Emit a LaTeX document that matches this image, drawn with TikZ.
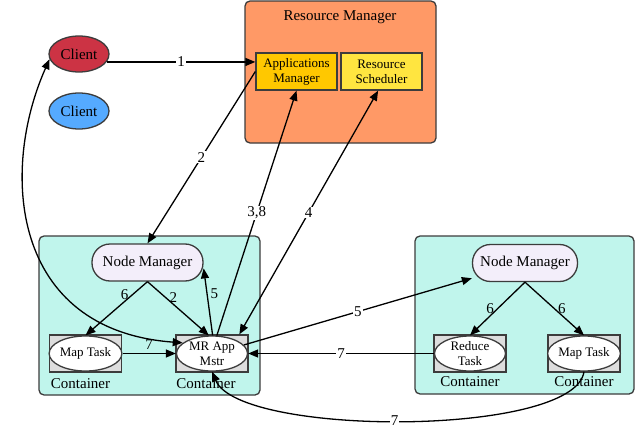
\documentclass[tikz,border=0pt]{standalone}
\usepackage{fontspec}
\setmainfont{Liberation Serif}
\usetikzlibrary{arrows.meta,shapes.geometric}

\definecolor{rmorange}{RGB}{255,153,102}
\definecolor{amgold}{RGB}{255,200,0}
\definecolor{rsyellow}{RGB}{255,229,64}
\definecolor{clientred}{RGB}{204,51,68}
\definecolor{clientblue}{RGB}{85,170,255}
\definecolor{nodeteal}{RGB}{192,245,236}
\definecolor{nmlilac}{RGB}{243,238,250}
\definecolor{contgray}{RGB}{221,221,221}
\definecolor{boxedge}{RGB}{60,60,60}

\begin{document}
\begin{tikzpicture}[x=1pt,y=-1pt,line width=1.3pt,
	>={Triangle[length=10pt,width=8pt]}]
	\tikzset{
		bigtxt/.style  = {font=\fontsize{15}{17}\selectfont},
		smalltxt/.style = {font=\fontsize{13}{15}\selectfont},
		rmbox/.style   = {draw=boxedge, fill=rmorange, rounded corners=5pt},
		nodebox/.style = {draw=boxedge, fill=nodeteal, rounded corners=5pt},
		ambox/.style   = {draw=boxedge, smalltxt, align=center, minimum width=81pt, minimum height=37pt, inner sep=0pt},
		client/.style  = {ellipse, draw=boxedge, bigtxt, minimum width=60pt, minimum height=36pt, inner sep=0pt},
		nm/.style      = {draw=boxedge, fill=nmlilac, bigtxt, rounded corners=18pt, minimum height=37pt, inner sep=0pt},
		cont/.style    = {draw=boxedge, fill=contgray, minimum width=72pt, minimum height=37pt, inner sep=0pt},
		task/.style    = {ellipse, draw=boxedge, fill=white, smalltxt, align=center, minimum width=71pt, minimum height=35pt, inner sep=0pt},
		cntlbl/.style  = {bigtxt, inner sep=5pt},
		lbl/.style     = {bigtxt, fill=white, inner sep=1pt},
		sidelbl/.style = {bigtxt, inner sep=3pt}
	}
	\useasboundingbox (0,0) rectangle (635,431);

	% resource manager
	\draw[rmbox] (245,1) rectangle (436,143);
	\node[bigtxt] (rmtitle) at (340,17) {Resource Manager};
	\node[ambox, fill=amgold] (appmgr) at (296.5,71.5) {Applications\\Manager};
	\node[ambox, fill=rsyellow] (sched) at (381.5,71.5) {Resource\\Scheduler};

	% clients
	\node[client, fill=clientred] (client) at (79,54) {Client};
	\node[client, fill=clientblue] (client2) at (79,111) {Client};

	% nodes
	\draw[nodebox] (39,236) rectangle (260,395);
	\draw[nodebox] (415,236) rectangle (634,394);
	\node[nm, minimum width=111pt] (nml) at (147.5,262.5) {Node Manager};
	\node[nm, minimum width=105pt] (nmr) at (525,263) {Node Manager};

	\node[cont] (cmapl) at (85.5,353.5) {};
	\node[task] (mapl) at (85.5,353.5) {Map Task};
	\node[cntlbl, anchor=north, xshift=-5pt] (lmapl) at (cmapl.south) {Container};
	\node[cont] (cmrapp) at (212,353.5) {};
	\node[task] (mrapp) at (212,353.5) {MR App\\Mstr};
	\node[cntlbl, anchor=north, xshift=-6pt] (lmrapp) at (cmrapp.south) {Container};
	\node[cont] (creduce) at (470,353.5) {};
	\node[task] (reduce) at (470,353.5) {Reduce\\Task};
	\node[cntlbl, anchor=north, yshift=2pt] (lreduce) at (creduce.south) {Container};
	\node[cont] (cmapr) at (584,353.5) {};
	\node[task] (mapr) at (584,353.5) {Map Task};
	\node[cntlbl, anchor=north, yshift=2pt] (lmapr) at (cmapr.south) {Container};

	% connectors
	\draw[->] (client.-16) -- node[lbl] {1} (client.-16 -| appmgr.west);
	\draw[->] (appmgr.west) -- node[lbl] {2} (nml.north);
	\draw[->] (mrapp.75) -- node[lbl] {3,8} (appmgr.south);
	\draw[<->] (sched.-100) -- node[lbl] {4} (cmrapp.35);
	\draw[->] (mrapp.88) -- node[sidelbl, right, pos=.63] {5} (nml.-6);
	\draw[->] (nml.south) -- node[sidelbl, left, pos=.25] {6} (mapl.north);
	\draw[->] (nml.south) -- node[sidelbl, right, pos=.3] {2} (mrapp.100);
	\draw[->] (mapl.east) -- node[sidelbl, above] {7} (mrapp.west);
	\draw[<->] (mrapp.160) .. controls (10,330) and (0,170) .. (client.190);
	\draw[->] (mrapp.15) -- node[lbl] {5} (nmr.196);
	\draw[->] (reduce.west) -- node[lbl] {7} (mrapp.east);
	\draw[->] (nmr.south) -- node[sidelbl, left] {6} (reduce.north);
	\draw[->] (nmr.south) -- node[sidelbl, right] {6} (mapr.north);
	\draw[->] (mapr.south) .. controls (575,437) and (240,437) .. node[lbl, pos=.52] {7} (mrapp.south);
\end{tikzpicture}
\end{document}
